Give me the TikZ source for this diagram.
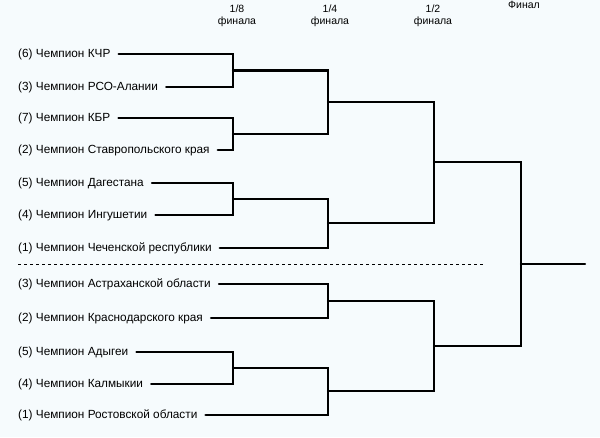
\documentclass[tikz,border=0pt]{standalone}
\usepackage{fontspec}
\setmainfont{Liberation Sans}
\begin{document}
\begin{tikzpicture}[x=1pt,y=-1pt,
  team/.style={anchor=west,inner sep=1pt,font=\fontsize{11.8}{13}\selectfont},
  head/.style={align=center,font=\fontsize{10.5}{12}\selectfont,inner sep=0pt},
  br/.style={line width=2.2pt,line cap=round}]
\fill[fill={rgb,255:red,246;green,251;blue,253}] (0,0) rectangle (600,437);
\useasboundingbox (0,0) rectangle (600,437);
\node[head] (h8) at (237,16) {1/8\\финала};
\node[head] (h4) at (330,16) {1/4\\финала};
\node[head] (h2) at (433,16) {1/2\\финала};
\node[head] (hf) at (524,5) {Финал};
\foreach \n/\y/\t in {a/54/{(6) Чемпион КЧР},b/87/{(3) Чемпион РСО-Алании},c/118/{(7) Чемпион КБР},d/150/{(2) Чемпион Ставропольского края},e/183/{(5) Чемпион Дагестана},f/215/{(4) Чемпион Ингушетии},g/248/{(1) Чемпион Чеченской республики},h/284/{(3) Чемпион Астраханской области},i/318/{(2) Чемпион Краснодарского края},j/352/{(5) Чемпион Адыгеи},k/384/{(4) Чемпион Калмыкии},l/415/{(1) Чемпион Ростовской области}}
  \node[team] (\n) at (17,\y) {\t};
\coordinate (ab) at (233,70.5);
\coordinate (cd) at (233,134);
\coordinate (ef) at (233,199);
\coordinate (jk) at (233,368);
\coordinate (abcd) at (328,102);
\coordinate (efg) at (328,223);
\coordinate (hi) at (328,301);
\coordinate (jkl) at (328,391);
\coordinate (top) at (434,162);
\coordinate (bot) at (434,346);
\coordinate (fin) at (521,264);
\coordinate (out) at (585,264);
\draw[br] ([xshift=7pt]a.east) -| (ab) |- ([xshift=7pt]b.east);
\draw[br] ([xshift=7pt]c.east) -| (cd) |- ([xshift=7pt]d.east);
\draw[br] ([xshift=7pt]e.east) -| (ef) |- ([xshift=7pt]f.east);
\draw[br] ([xshift=7pt]j.east) -| (jk) |- ([xshift=7pt]k.east);
\draw[br] (ab) -| (abcd) |- (cd);
\draw[br] (ef) -| (efg) |- ([xshift=7pt]g.east);
\draw[br] ([xshift=7pt]h.east) -| (hi) |- ([xshift=7pt]i.east);
\draw[br] (jk) -| (jkl) |- ([xshift=7pt]l.east);
\draw[br] (abcd) -| (top) |- (efg);
\draw[br] (hi) -| (bot) |- (jkl);
\draw[br] (top) -| (fin) |- (bot);
\draw[br] (fin) -- (out);
\draw[dashed,line width=0.8pt] (18,264) -- (485,264);
\end{tikzpicture}
\end{document}
